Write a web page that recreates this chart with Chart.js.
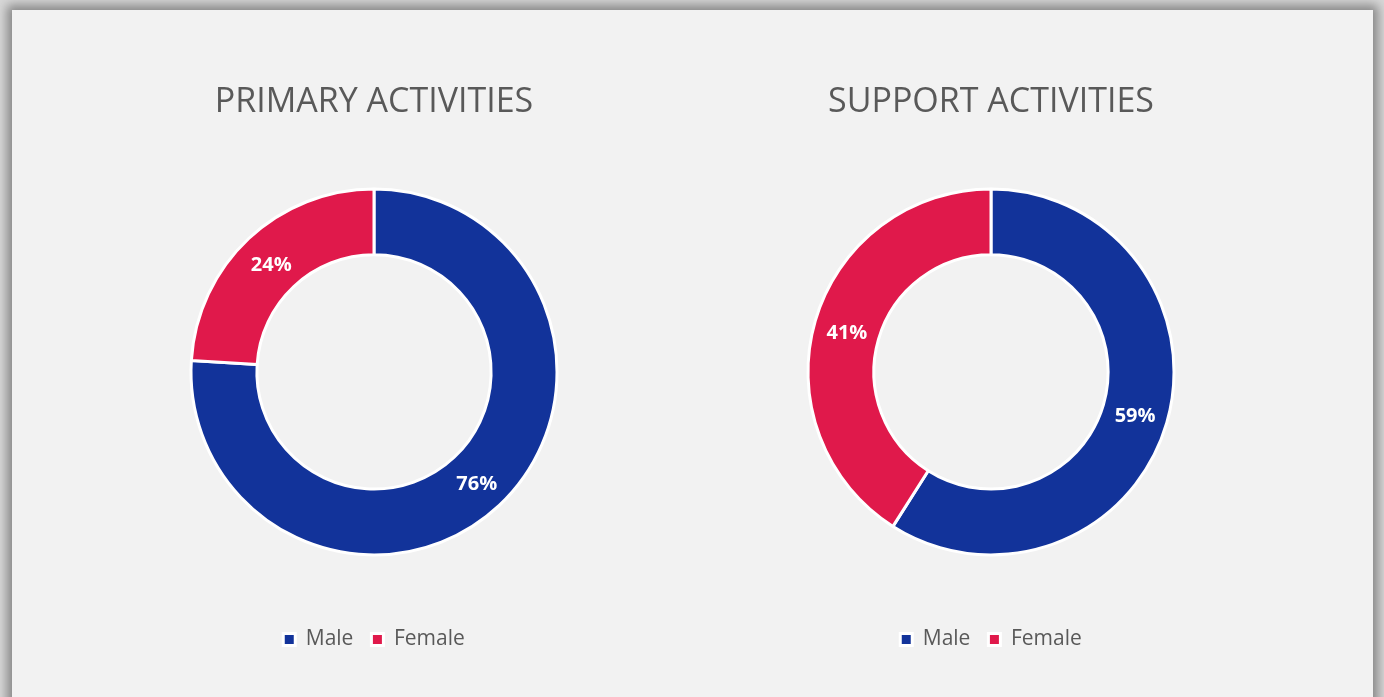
<!DOCTYPE html>
<html>
<head>
<meta charset="utf-8">
<script src="https://cdn.jsdelivr.net/npm/chart.js@4.4.1/dist/chart.umd.min.js"></script>
<style>
  html, body { margin: 0; padding: 0; }
  body { width: 1384px; height: 697px; overflow: hidden; background: #d8d8d8; position: relative; }
  #panel {
    position: absolute; left: 12px; top: 10px; width: 1361px; height: 700px;
    background: #f2f2f2;
    box-shadow: 0 0 10px 5px rgba(0,0,0,0.38);
  }
  .box { position: absolute; top: 10px; width: 600px; height: 687px; }
  #left { left: 74px; }
  #right { left: 691px; }
</style>
</head>
<body>
<div id="panel"></div>
<div class="box" id="left"><canvas id="primary"></canvas></div>
<div class="box" id="right"><canvas id="support"></canvas></div>
<script>
const categories = ['Male', 'Female'];
const primaryValues = [76, 24];
const supportValues = [59, 41];
const colors = ['#12339a', '#e0194b'];

Chart.defaults.font.family = "'Open Sans', sans-serif";

// percentage labels in the middle of each slice
const sliceLabels = {
    id: 'sliceLabels',
    afterDatasetsDraw(chart) {
        const ctx = chart.ctx;
        const values = chart.data.datasets[0].data;
        const total = values.reduce((a, b) => a + b, 0);
        chart.getDatasetMeta(0).data.forEach((arc, i) => {
            const pos = arc.tooltipPosition();
            ctx.save();
            ctx.fillStyle = '#ffffff';
            ctx.font = "bold 20px 'Open Sans', sans-serif";
            ctx.textAlign = 'center';
            ctx.textBaseline = 'middle';
            ctx.fillText(Math.round(values[i] / total * 100) + '%', pos.x, pos.y + 3);
            ctx.restore();
        });
    }
};

function makeDoughnut(id, title, values) {
    return new Chart(document.getElementById(id), {
        type: 'doughnut',
        data: {
            labels: categories,
            datasets: [{
                data: values,
                backgroundColor: colors,
                borderColor: '#ffffff',
                borderWidth: 3
            }]
        },
        options: {
            responsive: true,
            maintainAspectRatio: false,
            animation: false,
            events: [],
            radius: 183,
            cutout: '64%',
            layout: { padding: { bottom: 37 } },
            plugins: {
                title: {
                    display: true,
                    text: title,
                    color: '#595959',
                    font: { size: 34, weight: 'normal' },
                    padding: { top: 72, bottom: 10 }
                },
                legend: {
                    position: 'bottom',
                    labels: {
                        color: '#595959',
                        font: { size: 21 },
                        boxWidth: 12,
                        boxHeight: 12,
                        padding: 18
                    }
                },
                tooltip: { enabled: false }
            }
        },
        plugins: [sliceLabels]
    });
}

makeDoughnut('primary', 'PRIMARY ACTIVITIES', primaryValues);
makeDoughnut('support', 'SUPPORT ACTIVITIES', supportValues);
</script>
</body>
</html>
